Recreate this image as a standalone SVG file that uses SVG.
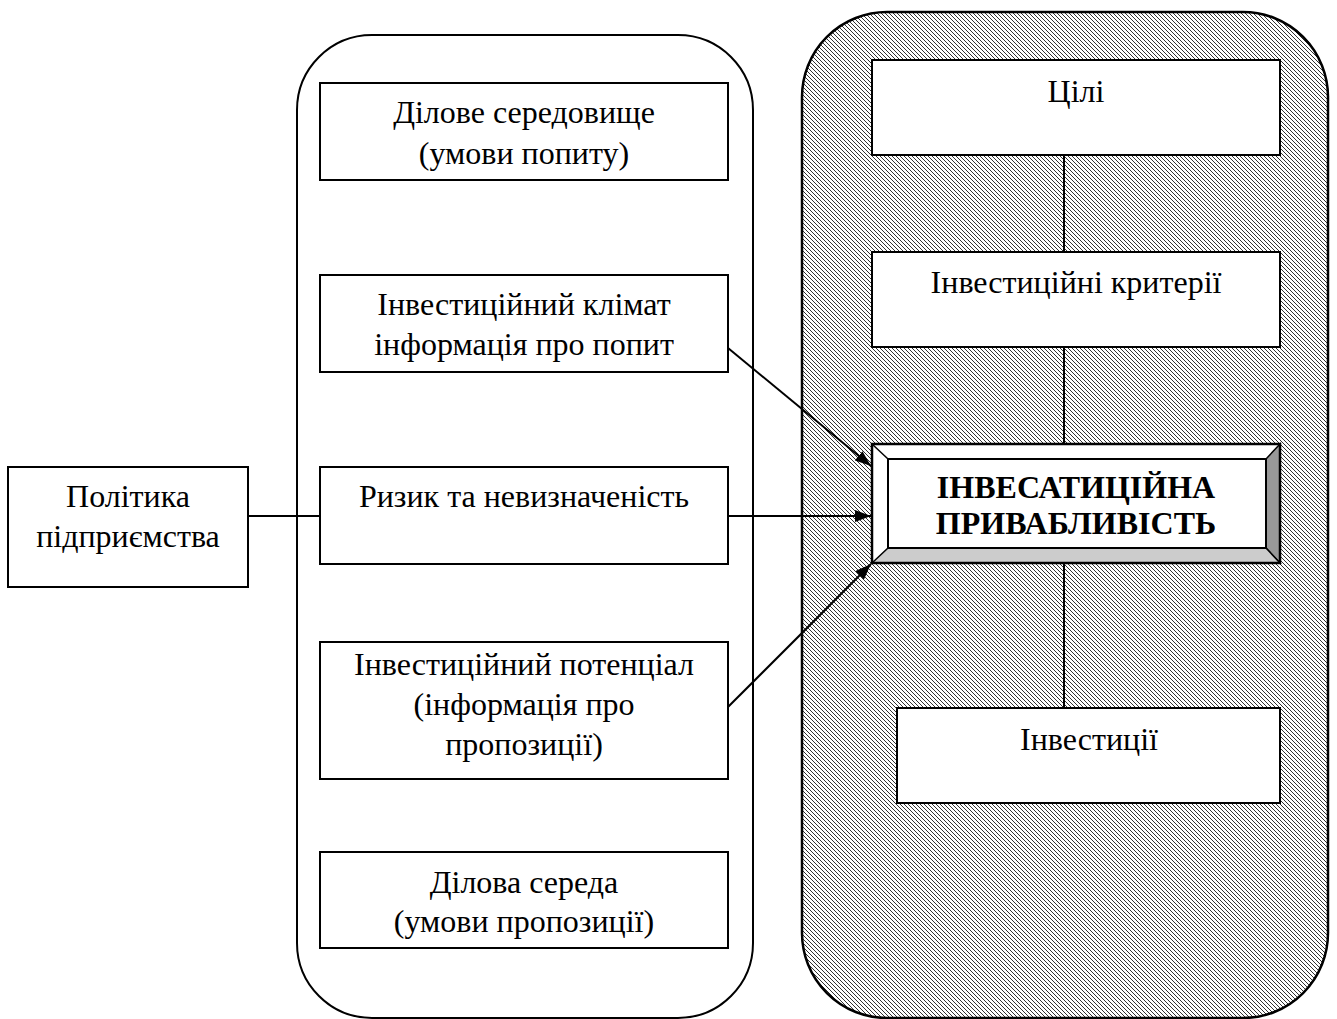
<svg xmlns="http://www.w3.org/2000/svg" width="1337" height="1019" viewBox="0 0 1337 1019">
<defs>
<pattern id="hatch" width="4" height="4" patternUnits="userSpaceOnUse">
<rect width="4" height="4" fill="#fff"/>
<path d="M-1,-1 L5,5 M-1,3 L1,5 M3,-1 L5,1" stroke="#333" stroke-width="1"/>
</pattern>
<marker id="arr" viewBox="0 0 16 12" refX="16" refY="6" markerWidth="16" markerHeight="12" markerUnits="userSpaceOnUse" orient="auto">
<path d="M0,0 L16,6 L0,12 Z" fill="#000"/>
</marker>
<style>
.box{fill:#fff;stroke:#000;stroke-width:2}
.t{font-family:"Liberation Serif","Times New Roman",serif;font-size:32px;fill:#000;text-anchor:middle}
.b{font-weight:bold}
.ln{stroke:#000;stroke-width:2;fill:none}
</style>
</defs>
<rect width="1337" height="1019" fill="#fff"/>
<g id="panel-left">
<rect x="297" y="35" width="456" height="983" rx="75" ry="75" fill="#fff" stroke="#000" stroke-width="2"/>
</g>
<g id="panel-right">
<rect x="802" y="12" width="526" height="1006" rx="85" ry="85" fill="url(#hatch)" stroke="#000" stroke-width="2.5"/>
</g>
<g id="connectors">
<line class="ln" x1="248" y1="516" x2="320" y2="516"/>
<line class="ln" x1="1064" y1="155" x2="1064" y2="252"/>
<line class="ln" x1="1064" y1="347" x2="1064" y2="444"/>
<line class="ln" x1="1064" y1="563" x2="1064" y2="708"/>
<line class="ln" x1="728" y1="348" x2="871" y2="466" marker-end="url(#arr)"/>
<line class="ln" x1="728" y1="516" x2="871" y2="516" marker-end="url(#arr)"/>
<line class="ln" x1="728" y1="707" x2="871" y2="564" marker-end="url(#arr)"/>
</g>
<g id="node-polityka">
<rect class="box" x="8" y="467" width="240" height="120"/>
<text class="t" x="128" y="507">Політика</text>
<text class="t" x="128" y="547">підприємства</text>
</g>
<g id="node-dilove-seredovyshche">
<rect class="box" x="320" y="83" width="408" height="97"/>
<text class="t" x="524" y="123">Ділове середовище</text>
<text class="t" x="524" y="164">(умови попиту)</text>
</g>
<g id="node-klimat">
<rect class="box" x="320" y="275" width="408" height="97"/>
<text class="t" x="524" y="315">Інвестиційний клімат</text>
<text class="t" x="524" y="355">інформація про попит</text>
</g>
<g id="node-ryzyk">
<rect class="box" x="320" y="467" width="408" height="97"/>
<text class="t" x="524" y="507">Ризик та невизначеність</text>
</g>
<g id="node-potentsial">
<rect class="box" x="320" y="642" width="408" height="137"/>
<text class="t" x="524" y="675">Інвестиційний потенціал</text>
<text class="t" x="524" y="715">(інформація про</text>
<text class="t" x="524" y="755">пропозиції)</text>
</g>
<g id="node-dilova-sereda">
<rect class="box" x="320" y="852" width="408" height="96"/>
<text class="t" x="524" y="893">Ділова середа</text>
<text class="t" x="524" y="932">(умови пропозиції)</text>
</g>
<g id="node-tsili">
<rect class="box" x="872" y="60" width="408" height="95"/>
<text class="t" x="1076" y="102">Цілі</text>
</g>
<g id="node-kryterii">
<rect class="box" x="872" y="252" width="408" height="95"/>
<text class="t" x="1076" y="293">Інвестиційні критерії</text>
</g>
<g id="node-pryvablyvist">
<rect x="872" y="444" width="408" height="119" fill="#fff" stroke="#000" stroke-width="2"/>
<polygon points="1280,444 1266,459 1266,548 1280,563" fill="#999" stroke="#000" stroke-width="1.5"/>
<polygon points="872,563 888,548 1266,548 1280,563" fill="#ccc" stroke="#000" stroke-width="1.5"/>
<line x1="872" y1="444" x2="888" y2="459" stroke="#000" stroke-width="1.5"/>
<rect x="888" y="459" width="378" height="89" fill="#fff" stroke="#000" stroke-width="2"/>
<rect x="872" y="444" width="408" height="119" fill="none" stroke="#000" stroke-width="2.5"/>
<text class="t b" x="1076" y="498">ІНВЕСАТИЦІЙНА</text>
<text class="t b" x="1076" y="534">ПРИВАБЛИВІСТЬ</text>
</g>
<g id="node-investytsii">
<rect class="box" x="897" y="708" width="383" height="95"/>
<text class="t" x="1089" y="750">Інвестиції</text>
</g>
</svg>
